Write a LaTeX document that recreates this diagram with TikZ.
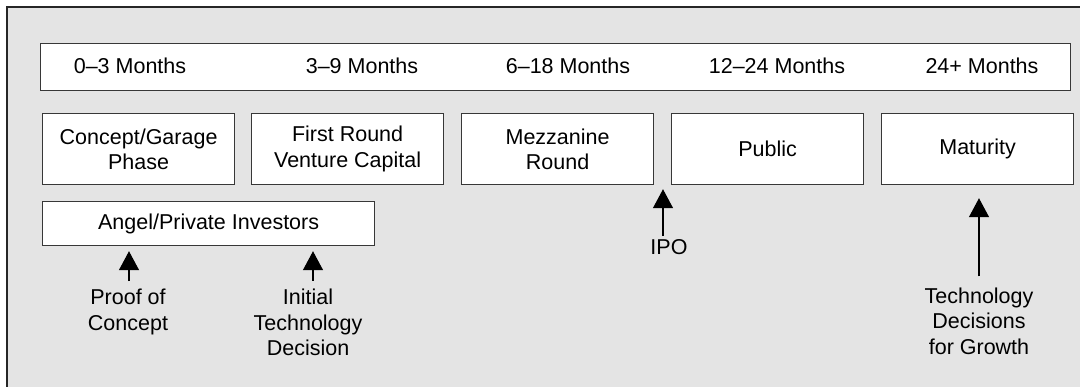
\documentclass[tikz,border=0pt]{standalone}
\usepackage{fontspec}
\setmainfont{Liberation Sans}
\usetikzlibrary{arrows.meta}
\definecolor{bgfill}{RGB}{228,228,228}
\definecolor{edge}{RGB}{55,55,55}
\begin{document}
\begin{tikzpicture}[x=1pt,y=1pt,
  txt/.style={font=\fontsize{21.5}{25.5}\selectfont, align=center, inner sep=0pt},
  phase/.style={txt, draw=edge, line width=1.2pt, fill=white, minimum width=192pt, minimum height=71pt, anchor=north west},
  arr/.style={line width=1.3pt, -{Triangle[width=20pt,length=19pt]}}]
\useasboundingbox (0,0) rectangle (1080,-386);
\fill[white] (0,0) rectangle (1080,-386);
\draw[line width=1.6pt, draw=black!85, fill=bgfill] (7,-7) rectangle (1100,-400);
% month bar
\node[phase, minimum width=1030pt, minimum height=47pt] (months) at (40,-43) {};
\node[txt] (m1) at (130,-66) {0--3 Months};
\node[txt] (m2) at (362,-66) {3--9 Months};
\node[txt] (m3) at (568,-66) {6--18 Months};
\node[txt] (m4) at (777,-66) {12--24 Months};
\node[txt] (m5) at (982,-66) {24+ Months};
% phases
\node[phase] (concept) at (42,-113) {Concept/Garage\\Phase};
\node[phase] (first) at (251,-113) {First Round\\Venture Capital};
\node[phase] (mezz) at (461,-113) {Mezzanine\\Round};
\node[phase] (public) at (671,-113) {Public};
\node[phase] (maturity) at (881,-113) {Maturity};
\node[phase, minimum width=332pt, minimum height=44.3pt] (angel) at (42,-200.7) {Angel/Private Investors};
% labels
\node[txt] (poc) at (128,-312) {Proof of\\Concept};
\node[txt] (itd) at (308,-322.4) {Initial\\Technology\\Decision};
\node[txt] (ipo) at (669,-247) {IPO};
\node[txt] (tdg) at (979,-320.9) {Technology\\Decisions\\for Growth};
% arrows
\draw[arr, shorten >=5pt] ([xshift=1pt,yshift=8pt]poc.north) -- ([xshift=1pt]poc.north |- angel.south);
\draw[arr, shorten >=5pt] ([xshift=5pt,yshift=8pt]itd.north) -- ([xshift=5pt]itd.north |- angel.south);
\draw[arr, shorten >=4pt] ([xshift=-6pt,yshift=3.5pt]ipo.north) -- ([xshift=-6pt]ipo.north |- mezz.south);
\draw[arr, shorten >=13pt] ([yshift=11pt]tdg.north) -- (tdg.north |- maturity.south);
\end{tikzpicture}
\end{document}
